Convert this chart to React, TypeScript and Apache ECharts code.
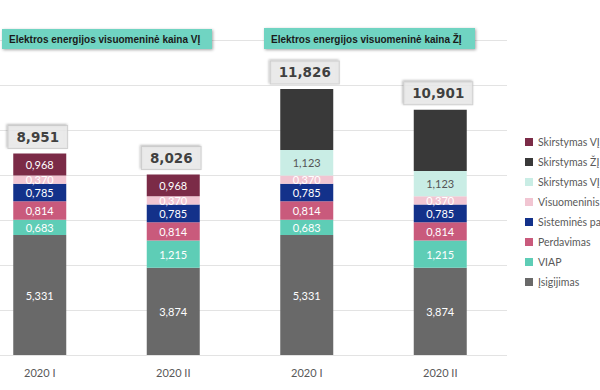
import React, { useEffect, useRef } from 'react';
import * as echarts from 'echarts';

const categories = ['2020 I', '2020 II', '2020 I', '2020 II'];
const isigijimas = [5.331, 3.874, 5.331, 3.874];
const viap = [0.683, 1.215, 0.683, 1.215];
const perdavimas = [0.814, 0.814, 0.814, 0.814];
const sistemines = [0.785, 0.785, 0.785, 0.785];
const visuomeninis = [0.37, 0.37, 0.37, 0.37];
const skirstymasVjLight = [null, null, 1.123, 1.123];
const skirstymasZj = [null, null, 2.72, 2.72];
const skirstymasVj = [0.968, 0.968, null, null];
const totals = [8.951, 8.026, 11.826, 10.901];
const headers = ['Elektros energijos visuomeninė kaina VĮ', 'Elektros energijos visuomeninė kaina ŽĮ'];

const legendLabels: Record<string, string> = {
  skVJ: 'Skirstymas VĮ',
  skZJ: 'Skirstymas ŽĮ',
  skVJL: 'Skirstymas VĮ',
  vis: 'Visuomeninis tiekimas',
  sis: 'Sisteminės paslaugos',
  per: 'Perdavimas',
  viap: 'VIAP',
  isig: 'Įsigijimas',
};

const fmt = (v: number) => v.toFixed(3).replace('.', ',');
const FONT = 'Lato, "Open Sans", sans-serif';
const HFONT = '"Liberation Sans", Arial, sans-serif';
const SHIFT = 27; // chart canvas starts 27px left of the page edge

export default function App() {
  const ref = useRef<HTMLDivElement>(null);
  useEffect(() => {
    if (!ref.current) return;
    const chart = echarts.init(ref.current, undefined, { renderer: 'svg' });
    const seg = (key: string, data: (number | null)[], color: string, labelColor = '#ffffff') => ({
      name: key,
      type: 'bar',
      stack: 'total',
      barWidth: 53,
      data,
      itemStyle: { color },
      label: {
        show: true,
        position: 'inside',
        color: labelColor,
        fontSize: 11,
        fontFamily: FONT,
        formatter: (p: any) => (p.value == null ? '' : fmt(p.value)),
      },
    });
    const header = (text: string, x: number, y: number, w: number, h: number) => ({
      type: 'group',
      x: x + SHIFT,
      y,
      z: 100,
      children: [
        {
          type: 'rect',
          z: 100,
          shape: { x: 0, y: 0, width: w, height: h },
          style: { fill: '#70d4c2', shadowBlur: 3, shadowColor: 'rgba(0,0,0,0.35)', shadowOffsetX: 1, shadowOffsetY: 1 },
        },
        {
          type: 'text',
          z: 101,
          style: {
            text,
            x: 7,
            y: h / 2 + 0.5,
            verticalAlign: 'middle',
            fill: '#1a1a1a',
            fontSize: 10,
            fontWeight: 'bold',
            fontFamily: HFONT,
          },
        },
      ],
    });
    chart.setOption({
      animation: false,
      backgroundColor: '#ffffff',
      textStyle: { fontFamily: FONT },
      grid: { left: 0, right: 93, top: 40, bottom: 35, containLabel: false },
      xAxis: {
        type: 'category',
        data: categories,
        axisLine: { show: false },
        axisTick: { show: false },
        axisLabel: { color: '#595959', fontSize: 11, margin: 12, fontFamily: FONT },
      },
      yAxis: {
        type: 'value',
        min: 0,
        max: 14,
        interval: 2,
        axisLabel: { show: false },
        axisLine: { show: false },
        axisTick: { show: false },
        splitLine: { lineStyle: { color: '#e3e3e3', width: 1 } },
      },
      legend: {
        orient: 'vertical',
        left: 520 + SHIFT,
        top: 130,
        icon: 'rect',
        itemWidth: 8,
        itemHeight: 8,
        itemGap: 6,
        data: ['skVJ', 'skZJ', 'skVJL', 'vis', 'sis', 'per', 'viap', 'isig'],
        formatter: (n: string) => legendLabels[n] ?? n,
        textStyle: {
          color: '#595959',
          fontSize: 10.5,
          lineHeight: 14,
          fontFamily: FONT,
          width: 67,
          overflow: 'truncate',
          ellipsis: '',
        },
      },
      graphic: [header(headers[0], 2, 29, 210, 20), header(headers[1], 264, 28, 211, 21)],
      series: [
        seg('isig', isigijimas, '#696969'),
        seg('viap', viap, '#5ecdb6'),
        seg('per', perdavimas, '#c95a7c'),
        seg('sis', sistemines, '#13318a'),
        seg('vis', visuomeninis, '#f1c5d2'),
        seg('skVJL', skirstymasVjLight, '#c9ede5', '#555555'),
        { ...seg('skZJ', skirstymasZj, '#393939'), label: { show: false } },
        seg('skVJ', skirstymasVj, '#7b2b47'),
        {
          name: 'total',
          type: 'scatter',
          data: totals,
          symbolSize: 1,
          itemStyle: { color: 'rgba(0,0,0,0)' },
          z: 10,
          label: {
            show: true,
            position: 'top',
            distance: 5,
            offset: [-2, 0],
            formatter: (p: any) => fmt(p.value),
            color: '#111111',
            fontSize: 13.5,
            fontWeight: 'bold',
            fontFamily: '"DejaVu Sans", Verdana, sans-serif',
            lineHeight: 16,
            backgroundColor: '#ececec',
            borderColor: '#c8c8c8',
            borderWidth: 1,
            padding: [3, 8, 3, 8],
            shadowColor: 'rgba(0,0,0,0.3)',
            shadowBlur: 2,
            shadowOffsetX: -1,
            shadowOffsetY: -1,
          },
        },
      ],
    });
    return () => chart.dispose();
  }, []);
  return (
    <div
      ref={ref}
      style={{ width: 600 + SHIFT, height: 390, position: 'absolute', left: -SHIFT, top: 0 }}
    />
  );
}
